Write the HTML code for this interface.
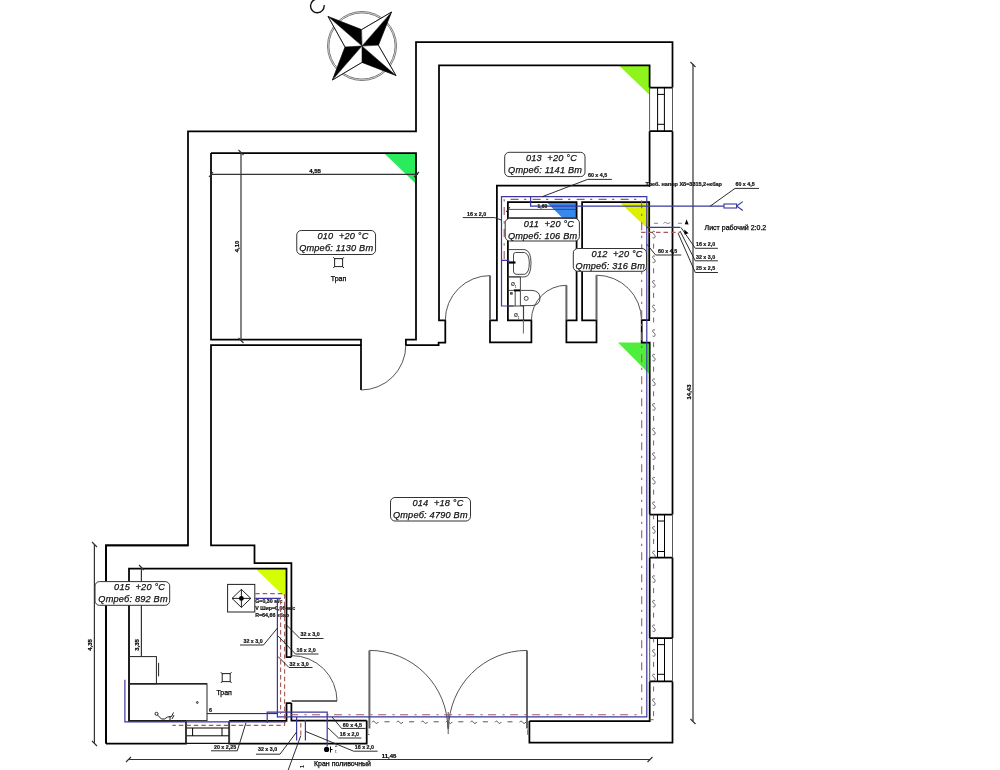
<!DOCTYPE html>
<html><head><meta charset="utf-8">
<style>
html,body{margin:0;padding:0;background:#fff;width:1000px;height:770px;overflow:hidden}
svg{display:block}
text{font-family:"Liberation Sans",sans-serif}
text{filter:grayscale(1)}
.w{stroke:#000;stroke-width:1.75;fill:none}
.t{stroke:#000;stroke-width:1;fill:none}
.g{stroke:#555;stroke-width:1;fill:none}
.dg{stroke:#666;stroke-width:2;fill:none}
.lb{font-family:"Liberation Sans",sans-serif;font-style:italic;font-size:9.2px;letter-spacing:0.2px;fill:#111;stroke:#111;stroke-width:0.25px;white-space:pre}
.sm{font-size:5px;fill:#000;font-weight:bold}
.bl{stroke:#3a38a0;stroke-width:1.2;fill:none}
.rd{stroke:#a85858;stroke-width:1.1;fill:none;stroke-dasharray:8 5.5 2.2 6.3}
.rdd{stroke:#a85858;stroke-width:1.1;fill:none;stroke-dasharray:4.5 3}
</style></head><body>
<svg width="1000" height="770" viewBox="0 0 1000 770">
<!-- compass -->
<g id="compass">
<circle cx="362" cy="46" r="33.1" fill="none" stroke="#555" stroke-width="0.8"/><circle cx="362" cy="46" r="34.5" fill="none" stroke="#555" stroke-width="0.8"/>
<polygon points="328,16.4 361.6,29.6 362,46" fill="#000"/>
<polygon points="328,16.4 362,46 345,47" fill="#fff" stroke="#111" stroke-width="0.6"/>
<polygon points="391.6,12 378.4,45.2 362,46" fill="#000"/>
<polygon points="391.6,12 362,46 361.6,29.6" fill="#fff" stroke="#111" stroke-width="0.6"/>
<polygon points="396,75.6 362,62.4 362,46" fill="#000"/>
<polygon points="396,75.6 362,46 378.4,45.2" fill="#fff" stroke="#111" stroke-width="0.6"/>
<polygon points="332.4,80 345,47 362,46" fill="#000"/>
<polygon points="332.4,80 362,46 362,62.4" fill="#fff" stroke="#111" stroke-width="0.6"/>
<polygon points="328,16.4 361.6,29.6 391.6,12 378.4,45.2 396,75.6 362,62.4 332.4,80 345,47" fill="none" stroke="#000" stroke-width="0.7"/>
<path d="M324.1,5.1 A6.8,6.8 0 1 1 318.4,-0.8" fill="none" stroke="#111" stroke-width="1.4"/>
</g>

<!-- triangles -->
<polygon points="384.4,153.5 416.4,153.5 416.4,184.3" fill="#2aeb5c"/>
<polygon points="619,65.4 649.6,65.4 649.6,95" fill="#8ef41c"/>
<polygon points="546.6,202.2 576.6,202.2 576.6,232" fill="#3888ee"/>
<polygon points="619.1,201.7 649.9,201.7 649.9,231" fill="#dcf000"/>
<polygon points="618,342.6 649,342.6 649,373.8" fill="#50ee3c"/>
<polygon points="255.6,568.7 286.5,568.7 286.5,598.5" fill="#d4fe04"/>
<!-- outer walls -->
<path class="w" d="M106,743.5 V545.4 H188 V131.4 H416 V42 H672.5 V87.6 M672.5,131.2 V514.6 M672.5,557.6 V638.2 M672.5,681.4 V742.5 H529.4 V721"/>
<path class="w" d="M106,743.5 H186 V721 M229.2,721 V743.5 H366.7 V720.5"/>

<!-- inner walls -->
<path class="w" d="M211,153 H416 V339.6 H405.9 V345.2 H438.6 V342.7 H445.3 V320.4 H439 V65.4 H649.6 V87.6 M649.6,131.2 V185.5 H496.9 V320.3 H490 V342.4 H531.4 V320.3 H507.9 V202 H576.6 V320.3 H566.4 V342.4 H596.5 V320.3 H582.1 V202 H649.2 V320.2 H641.7 V342.6 H649.7 V514.6 M649.7,557.6 V638.2 M649.7,681.4 V721 H529.4"/>
<path class="w" d="M211,153 V339.6 H361 V345.2 H211 V545.4 H254.5 V563 H291.4 V657 M291.4,703 V720.5 H366.7 M291.4,657 H286.5 V568.5 H129 V720.8 H186 M229.2,720.8 H286.5 V703 H291.4"/>
<path class="w" d="M106,743.5 V545.4 H188"/>
<!-- window / wall pieces on right -->
<path class="w" d="M649.6,87.6 H672.5 M649.6,131.2 H672.5 M649.7,514.6 H672.5 M649.7,557.6 H672.5 M649.7,638.2 H672.5 M649.7,681.4 H672.5"/>
<path class="t" d="M657.6,87.6 V131.2 M664.4,87.6 V131.2 M657.6,94.4 H664.4 M657.6,124.3 H664.4"/>
<path class="t" d="M657.5,514.6 V557.6 M664.5,514.6 V557.6 M657.5,521 H664.5 M657.5,551.5 H664.5"/>
<path class="t" d="M657.5,638.2 V681.4 M664.5,638.2 V681.4 M657.5,644.6 H664.5 M657.5,674.3 H664.5"/>
<path class="g" d="M672.5,514.6 V557.6 M672.5,638.2 V681.4 M672.5,87.6 V131.2 M649.7,514.6 V557.6 M649.7,638.2 V681.4 M649.6,87.6 V131.2"/>
<!-- bottom window -->
<path class="t" d="M186,728 H229.2 M186,735.8 H229.2 M192.6,728 V735.8 M222,728 V735.8"/>
<path class="g" d="M186,720.8 V743.5 M229.2,720.8 V743.5"/>
<path d="M186,743.3 H229.2" stroke="#111" stroke-width="1.2"/>
<!-- doors -->
<path d="M367.8,729.4 V734.5 H369.6 M527.6,729.4 V734.5 H529.4" stroke="#666" stroke-width="0.9" fill="none"/>
<path class="w" d="M361,345.2 V390"/>
<path class="dg" d="M490,320.3 V275.6 M566.4,320.3 V285.3 M596.5,320.2 V275.2 M291.6,701 H337 M369.4,650.4 V728.6 M527,650.4 V728.6"/>
<path class="g" d="M361,390 A44.8,44.8 0 0 0 405.8,345.2 M490,275.6 A44.7,44.7 0 0 0 445.3,320.3 M566.4,285.3 A35,35 0 0 0 531.4,320.3 M596.5,275.2 A45,45 0 0 1 641.5,320.2 M337,701 A45.4,45.4 0 0 0 291.6,655.6 M369.4,650.4 A78.4,78.4 0 0 1 447.8,728.8 M527,650.4 A78.4,78.4 0 0 0 448.6,728.8 M448.2,712 V734"/>

<!-- dimension lines -->
<g stroke="#333" stroke-width="1.2" fill="none">
<path d="M211,174.3 H418 M241,152.3 V340.4 M94.4,544.4 V743 M141.4,567.6 V656 M693,64 V721 M128.4,759.5 H650"/>
<path d="M209,177 l4,-5 M414,177 l5,-5 M238.5,150 l5,5 M238.5,338 l5,5 M92,542 l5,5 M92,741 l5,5 M139,565 l5,5 M690.5,62 l5,5 M690.5,719 l5,5 M126,762 l5,-5 M647.5,762 l5,-5"/>
</g>
<g font-family="Liberation Sans" font-weight="bold" font-size="6" fill="#000" stroke="#000" stroke-width="0.2">
<text x="315" y="172.5" text-anchor="middle">4,55</text>
<text transform="translate(238.5,246.4) rotate(-90)" text-anchor="middle">4,10</text>
<text transform="translate(690.5,392) rotate(-90)" text-anchor="middle">14,43</text>
<text transform="translate(92,645) rotate(-90)" text-anchor="middle">4,35</text>
<text transform="translate(139,645) rotate(-90)" text-anchor="middle">3,35</text>
<text x="389" y="757.5" text-anchor="middle">11,45</text>
</g>

<!-- pipes -->
<path class="rd" style="stroke-dashoffset:-3" d="M504.2,262 V199.4 H641.7 V714.7 H291"/>
<path class="bl" d="M513.6,306 H501.5 V196.6 H646.8 V716.9 H277.4"/>
<path class="bl" d="M501.5,260.3 H509.3 M530.6,196.6 V206.2 H724"/>
<path class="bl" d="M646.5,227.4 H680.3"/>
<path class="rdd" d="M641,232.4 H680"/>
<path stroke="#777" stroke-width="0.9" fill="none" d="M654,223.3 h4 M663.5,223.5 c1,-1.2 2,-1.4 3,-0.6 s2,1 3.5,-0.5 M678,223.3 h4"/>
<path transform="translate(0,-0.8)" stroke="#4a4a4a" stroke-width="0.85" fill="none" d="M655.0,232.8 c-0.8,-1.2 -2.6,-0.8 -2.4,0.8 c0.2,1.6 2.6,1.6 2.6,3.6 c0,1.6 -1.6,2 -2.6,1.2 M653.6,244.5 v5.0 M655.0,257.4 c-0.8,-1.2 -2.6,-0.8 -2.4,0.8 c0.2,1.6 2.6,1.6 2.6,3.6 c0,1.6 -1.6,2 -2.6,1.2 M653.6,269.1 v5.0 M655.0,282.0 c-0.8,-1.2 -2.6,-0.8 -2.4,0.8 c0.2,1.6 2.6,1.6 2.6,3.6 c0,1.6 -1.6,2 -2.6,1.2 M653.6,293.7 v5.0 M655.0,306.6 c-0.8,-1.2 -2.6,-0.8 -2.4,0.8 c0.2,1.6 2.6,1.6 2.6,3.6 c0,1.6 -1.6,2 -2.6,1.2 M653.6,318.3 v5.0 M655.0,331.2 c-0.8,-1.2 -2.6,-0.8 -2.4,0.8 c0.2,1.6 2.6,1.6 2.6,3.6 c0,1.6 -1.6,2 -2.6,1.2 M653.6,342.9 v5.0 M655.0,355.8 c-0.8,-1.2 -2.6,-0.8 -2.4,0.8 c0.2,1.6 2.6,1.6 2.6,3.6 c0,1.6 -1.6,2 -2.6,1.2 M653.6,367.5 v5.0 M655.0,380.4 c-0.8,-1.2 -2.6,-0.8 -2.4,0.8 c0.2,1.6 2.6,1.6 2.6,3.6 c0,1.6 -1.6,2 -2.6,1.2 M653.6,392.1 v5.0 M655.0,405.0 c-0.8,-1.2 -2.6,-0.8 -2.4,0.8 c0.2,1.6 2.6,1.6 2.6,3.6 c0,1.6 -1.6,2 -2.6,1.2 M653.6,416.7 v5.0 M655.0,429.6 c-0.8,-1.2 -2.6,-0.8 -2.4,0.8 c0.2,1.6 2.6,1.6 2.6,3.6 c0,1.6 -1.6,2 -2.6,1.2 M653.6,441.3 v5.0 M655.0,454.2 c-0.8,-1.2 -2.6,-0.8 -2.4,0.8 c0.2,1.6 2.6,1.6 2.6,3.6 c0,1.6 -1.6,2 -2.6,1.2 M653.6,465.9 v5.0 M655.0,478.8 c-0.8,-1.2 -2.6,-0.8 -2.4,0.8 c0.2,1.6 2.6,1.6 2.6,3.6 c0,1.6 -1.6,2 -2.6,1.2 M653.6,490.5 v5.0 M655.0,503.4 c-0.8,-1.2 -2.6,-0.8 -2.4,0.8 c0.2,1.6 2.6,1.6 2.6,3.6 c0,1.6 -1.6,2 -2.6,1.2 M653.6,515.1 v5.0 M655.0,528.0 c-0.8,-1.2 -2.6,-0.8 -2.4,0.8 c0.2,1.6 2.6,1.6 2.6,3.6 c0,1.6 -1.6,2 -2.6,1.2 M653.6,539.7 v5.0 M655.0,552.6 c-0.8,-1.2 -2.6,-0.8 -2.4,0.8 c0.2,1.6 2.6,1.6 2.6,3.6 c0,1.6 -1.6,2 -2.6,1.2 M653.6,564.3 v5.0 M655.0,577.2 c-0.8,-1.2 -2.6,-0.8 -2.4,0.8 c0.2,1.6 2.6,1.6 2.6,3.6 c0,1.6 -1.6,2 -2.6,1.2 M653.6,588.9 v5.0 M655.0,601.8 c-0.8,-1.2 -2.6,-0.8 -2.4,0.8 c0.2,1.6 2.6,1.6 2.6,3.6 c0,1.6 -1.6,2 -2.6,1.2 M653.6,613.5 v5.0 M655.0,626.4 c-0.8,-1.2 -2.6,-0.8 -2.4,0.8 c0.2,1.6 2.6,1.6 2.6,3.6 c0,1.6 -1.6,2 -2.6,1.2 M653.6,638.1 v5.0 M655.0,651.0 c-0.8,-1.2 -2.6,-0.8 -2.4,0.8 c0.2,1.6 2.6,1.6 2.6,3.6 c0,1.6 -1.6,2 -2.6,1.2 M653.6,662.7 v5.0 M655.0,675.6 c-0.8,-1.2 -2.6,-0.8 -2.4,0.8 c0.2,1.6 2.6,1.6 2.6,3.6 c0,1.6 -1.6,2 -2.6,1.2 M653.6,687.3 v5.0 M655.0,700.2 c-0.8,-1.2 -2.6,-0.8 -2.4,0.8 c0.2,1.6 2.6,1.6 2.6,3.6 c0,1.6 -1.6,2 -2.6,1.2 M653.6,711.9 v5.0 M649.4,720.5 H653.6"/>
<path stroke="#555" stroke-width="1" fill="none" d="M372.0,722.3 c1,-1.6 2,-1.6 3,0 s2,1.6 3.5,-0.4 M384.5,721.8 h5.0 M396.6,722.3 c1,-1.6 2,-1.6 3,0 s2,1.6 3.5,-0.4 M409.1,721.8 h5.0 M421.2,722.3 c1,-1.6 2,-1.6 3,0 s2,1.6 3.5,-0.4 M433.7,721.8 h5.0 M445.8,722.3 c1,-1.6 2,-1.6 3,0 s2,1.6 3.5,-0.4 M458.3,721.8 h5.0 M470.4,722.3 c1,-1.6 2,-1.6 3,0 s2,1.6 3.5,-0.4 M482.9,721.8 h5.0 M495.0,722.3 c1,-1.6 2,-1.6 3,0 s2,1.6 3.5,-0.4 M507.5,721.8 h5.0 M519.6,722.3 c1,-1.6 2,-1.6 3,0 s2,1.6 3.5,-0.4"/>

<!-- details 015 -->
<text transform="translate(304,768) rotate(-90)" font-family="Liberation Sans" font-size="5.5" font-weight="bold" fill="#111">1</text>
<text x="335" y="747" font-family="Liberation Sans" font-size="4.5" fill="#111">2</text><text x="335" y="753" font-family="Liberation Sans" font-size="4.5" fill="#111">r.</text>
<g stroke="#222" stroke-width="1" fill="none">
<rect x="227.6" y="584.4" width="27.2" height="27.6"/>
<path d="M241.4,589.4 L250.8,598.4 L241.4,607.4 L232,598.4 Z M232,598.4 H250.8 M241.4,589.4 V607.4"/>
<rect x="128.8" y="656.6" width="27.6" height="27.2"/>
<path d="M158.6,662.8 V676.4"/>
<rect x="128.8" y="683.8" width="78.2" height="36.8"/>
<path d="M128.8,683.8 H207" stroke-width="1.6"/>
<path d="M207,713.6 H278"/>
<circle cx="197.3" cy="702.5" r="0.9"/>
<circle cx="156.5" cy="713.8" r="1.5"/>
<path d="M157.5,715 l4,4 h3 l3,-2 l4,-0.5 l2,-4 M170,721 l0,-5 M172,719 l2,-4"/>
</g>
<circle cx="241.4" cy="598.4" r="2.4" fill="#000"/>
<g font-family="Liberation Sans" font-weight="bold" font-size="5.3" fill="#111" stroke="#111" stroke-width="0.2">
<text x="255.2" y="603">G=0,30 м/с</text>
<text x="255.2" y="609.6">V Шир=0,06 м/с</text>
<text x="255.2" y="616.6">R=64,66 кбар</text>
<text x="209" y="711.5">6</text>
</g>
<!-- трап 015 & 010 -->
<g stroke="#222" stroke-width="1" fill="none">
<rect x="222.2" y="673.6" width="8" height="8"/>
<path d="M220.8,672.2 l2,2 M231.6,672.2 l-2,2 M220.8,683 l2,-2 M231.6,683 l-2,-2"/>
<rect x="334.6" y="258.6" width="8" height="8"/>
<path d="M333.2,257.2 l2,2 M344,257.2 l-2,2 M333.2,268 l2,-2 M344,268 l-2,-2"/>
</g>
<g font-family="Liberation Sans" font-size="7" fill="#000" stroke="#000" stroke-width="0.25">
<text x="338.5" y="281" text-anchor="middle">Трап</text>
<text x="224.2" y="695.2" text-anchor="middle">Трап</text>
<text x="314" y="766.2">Кран поливочный</text>
<text x="704.6" y="229.6">Лист рабочий 2:0.2</text>
</g>

<!-- pipes 015 & bottom -->
<path class="bl" d="M124.9,679.7 V721.8 H286 M277.4,598.4 V717.4 M255.2,598.4 H281 M267.2,723 V712.2 H327.2 V746.4 M296.6,717 V740.4 M305.4,720 V740.4"/>
<path class="rdd" d="M255.2,593.6 H284.6 V725.4 H172.4 M280.6,600 V714 M300.8,723 V738"/>
<circle cx="326.6" cy="749.4" r="2.6" fill="#000"/>
<path d="M330.5,746.5 v6 M330.5,749.5 h2" stroke="#000" stroke-width="1" fill="none"/>
<g stroke="#222" stroke-width="0.95" fill="none">
<path d="M341.6,728.4 H365.6 M341.6,728.4 L332,717 M338.6,738 H361.4 M338.6,738 L327.8,727.8 M353.6,751.2 H377.6 M353.6,751.2 L305.6,731.4 M256,754.2 H280 L296.6,732 M288.2,770 L300.8,735.6"/>
<path d="M211,750.8 H237.3 L246,722.6"/>
</g>
<g font-family="Liberation Sans" font-weight="bold" font-size="5.3" fill="#111" stroke="#111" stroke-width="0.2">
<text x="342.8" y="726.6">60 x 4,5</text>
<text x="339.8" y="736.2">16 x 2,0</text>
<text x="354.8" y="748.8">16 x 2,0</text>
<text x="258" y="751.4">32 x 3,0</text>
<text x="214" y="748.6">20 x 2,25</text>
</g>

<g stroke="#222" stroke-width="0.95" fill="none">
<path d="M323.5,638.5 H300 L286,624.5 M318.5,654 H295.5 L278,636 M312.5,667.5 H289 L278,656.5 M240,645 H263.5 L277.5,628"/>
</g>
<g font-family="Liberation Sans" font-weight="bold" font-size="5.3" fill="#111" stroke="#111" stroke-width="0.2">
<text x="300.5" y="636">32 x 3,0</text>
<text x="296.5" y="652">16 x 2,0</text>
<text x="289.5" y="665.5">32 x 3,0</text>
<text x="243.5" y="643">32 x 3,0</text>
</g>

<!-- 011 fixtures -->
<path d="M523.4,306 V333.5" stroke="#666" stroke-width="1" fill="none"/>
<g stroke="#333" stroke-width="0.9" fill="none">
<path d="M508,249.6 H525 Q531,251 531,263 Q531,276 525,276.9 H508"/>
<path d="M515.5,252.5 H524.5 Q529.3,254 529.3,263 Q529.3,273 524.5,274.3 H516 Q513.5,274 513.5,271 V255 Q513.5,252.5 515.5,252.5 Z"/>
<path d="M508,276.9 H520.4 V290.4 H508 M515.2,290.4 V306 M520.4,290.4 V306 M508,306 H523.6 V320"/>
<path d="M521,290.4 H532 Q540,291 540,298 Q540,305 532,305.6 H521"/>
<circle cx="526.2" cy="298.4" r="2"/>
<rect x="510.6" y="292.6" width="1.6" height="1.6"/>
</g>
<path d="M509,262.5 h6.5" stroke="#000" stroke-width="2.2"/>
<path d="M514,290.4 h6" stroke="#000" stroke-width="2"/>
<g font-family="Liberation Sans" font-weight="bold" font-size="5" fill="#333">
<text x="511" y="286">Ø</text><text x="514.8" y="288.2" font-size="3">1</text>
<text x="514" y="316.5">Ø</text><text x="517.8" y="318.5" font-size="3">1</text>
</g>

<!-- top-right annotations -->
<g stroke="#222" stroke-width="0.95" fill="none">
<path d="M611.9,179.4 H587.6 L542,196.8"/>
<path d="M759,188.4 H735 L710,206.3"/>
<path d="M717.9,248.3 H695.3 L681,227.5 M717.9,260.8 H695.3 L680,231 M717.9,272.5 H695.3 L678,233"/>
<path d="M681.3,255 H655.6 L647,244.4"/>
<path d="M494.6,217.6 H462.8 M494.6,217.6 L501.2,220"/>
<path d="M508,209.4 H576.6 M508,217.6 H576.6" stroke="#444"/>
<path d="M506,212 l4,-5"/>
</g>
<g stroke="#3a38a0" stroke-width="1.1" fill="none">
<rect x="724" y="204" width="12.6" height="4" fill="#fff"/>
<path d="M736.6,206 L742.8,201.6 M736.6,206 L742.8,210.5"/>
</g>
<path d="M686.6,219.2 L688.6,224.6 L684.8,224.2 Z M684.2,229.6 L688.6,233.2 L684.6,234.6 Z" fill="#000"/>
<g font-family="Liberation Sans" font-weight="bold" font-size="5.3" fill="#111" stroke="#111" stroke-width="0.2">
<text x="588" y="177.2">60 x 4,5</text>
<text x="735.5" y="186.3">60 x 4,5</text>
<text x="696" y="246.2">16 x 2,0</text>
<text x="696" y="258.7">32 x 3,0</text>
<text x="696" y="270.4">25 x 2,5</text>
<text x="658" y="252.8">60 x 4,5</text>
<text x="467" y="215.6">16 x 2,0</text>
<text x="537.5" y="208" font-size="5">1,60</text>
<text x="645.5" y="186" font-size="5.5">Треб. напор Х8=3315,2+кбар</text>
</g>
<!-- labels -->
<rect x="296.75" y="230.5" width="78.8" height="24.0" rx="4.5" fill="#fff" stroke="#333" stroke-width="1"/>
<text class="lb" x="317.5" y="239.0">010  +20 °C</text><text class="lb" x="299.2" y="250.8">Qтреб: 1130 Вт</text>
<rect x="504.7" y="152.3" width="80.3" height="24.3" rx="4.5" fill="#fff" stroke="#333" stroke-width="1"/>
<text class="lb" x="525.9" y="160.8">013  +20 °C</text><text class="lb" x="508.1" y="172.6">Qтреб: 1141 Вт</text>
<rect x="505.2" y="218.4" width="74.2" height="22.6" rx="4.5" fill="#fff" stroke="#333" stroke-width="1"/>
<text class="lb" x="523.8" y="226.9">011  +20 °C</text><text class="lb" x="507.9" y="238.7">Qтреб: 106 Вт</text>
<rect x="573.3" y="248.5" width="73.2" height="22.8" rx="4.5" fill="#fff" stroke="#333" stroke-width="1"/>
<text class="lb" x="591.6" y="257.0">012  +20 °C</text><text class="lb" x="575.6" y="268.8">Qтреб: 316 Вт</text>
<rect x="390.5" y="497.5" width="80.0" height="23.5" rx="4.5" fill="#fff" stroke="#333" stroke-width="1"/>
<text class="lb" x="412.5" y="506.0">014  +18 °C</text><text class="lb" x="393" y="517.8">Qтреб: 4790 Вт</text>
<rect x="95" y="581.6" width="74.7" height="23.7" rx="4.5" fill="#fff" stroke="#333" stroke-width="1"/>
<text class="lb" x="114.1" y="590.1">015  +20 °C</text><text class="lb" x="98.3" y="601.9">Qтреб: 892 Вт</text>
</svg>
</body></html>
